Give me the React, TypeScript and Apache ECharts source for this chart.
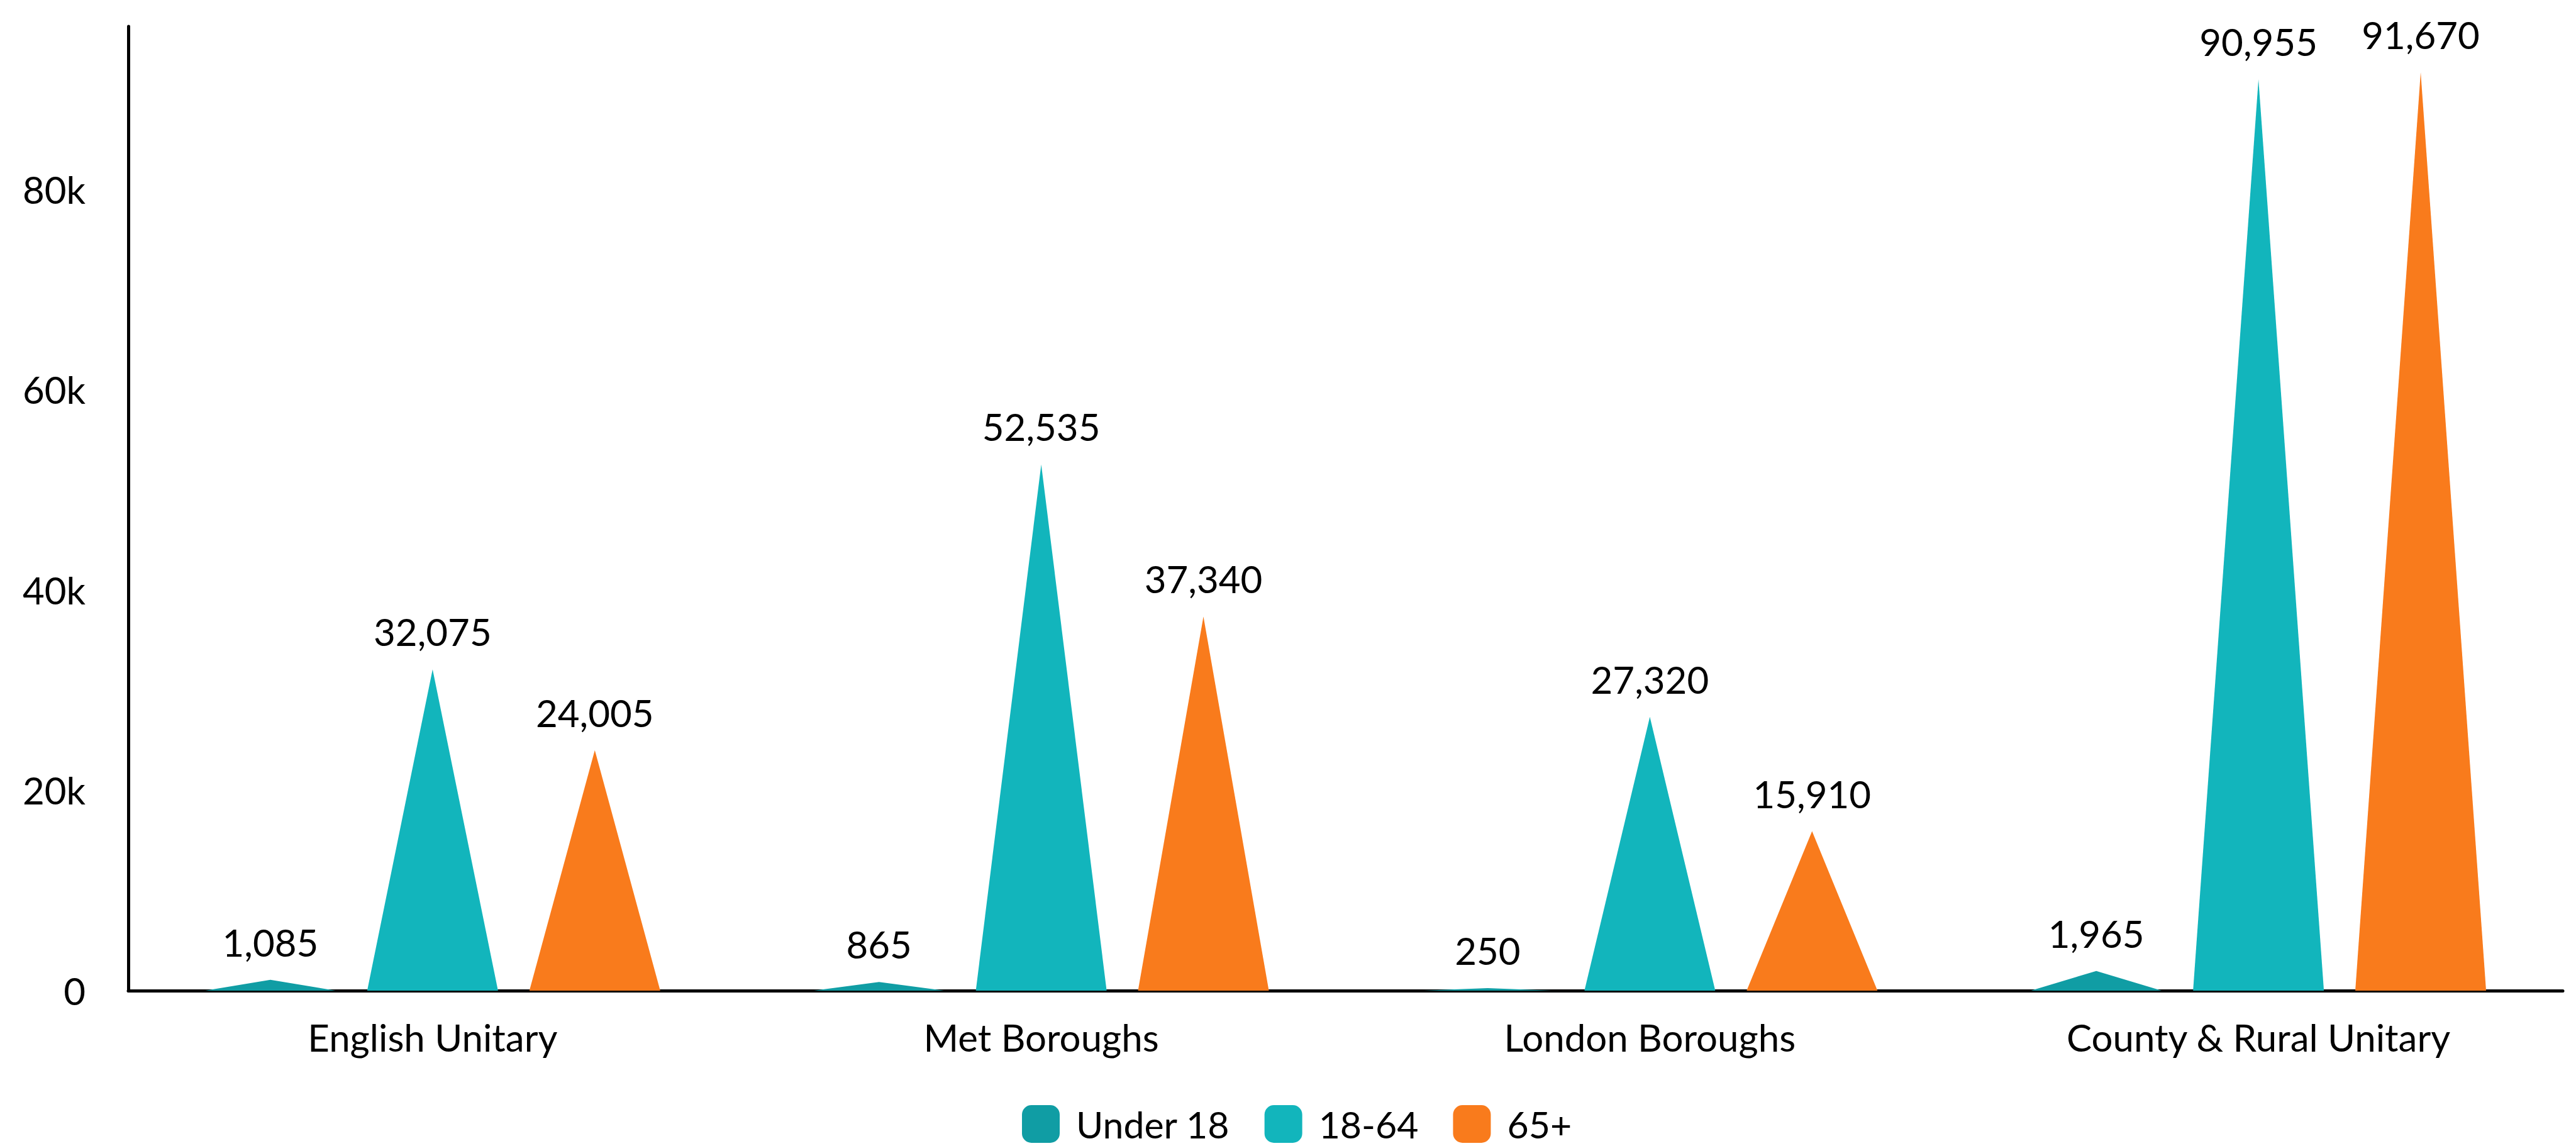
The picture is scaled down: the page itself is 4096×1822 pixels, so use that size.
import React, { useEffect, useRef } from "react";
import * as echarts from "echarts";

// Council groupings and the number of people in each age band
const categories = ["English Unitary", "Met Boroughs", "London Boroughs", "County & Rural Unitary"];
const under18 = [1085, 865, 250, 1965];
const age18to64 = [32075, 52535, 27320, 90955];
const age65plus = [24005, 37340, 15910, 91670];
const seriesNames = ["Under 18", "18-64", "65+"];
const seriesColors = ["#109DA4", "#12B5BC", "#F97B1C"];
const yTicks = [0, 20000, 40000, 60000, 80000];

const FONT = "Lato, 'Noto Sans', sans-serif";
const FS = 60;

export default function App() {
  const ref = useRef<HTMLDivElement>(null);

  useEffect(() => {
    if (!ref.current) return;
    const chart = echarts.init(ref.current, undefined, { renderer: "svg" });
    const fmt = (v: number) => v.toLocaleString("en-GB");
    const mk = (name: string, data: number[], color: string) => ({
      name,
      type: "pictorialBar",
      symbol: "triangle",
      symbolSize: ["100%", "100%"],
      barWidth: 208,
      barGap: "24%",
      itemStyle: { color },
      label: {
        show: true,
        position: "top",
        distance: 30,
        color: "#000",
        fontFamily: FONT,
        fontSize: FS,
        formatter: (p: any) => fmt(p.value),
      },
      data,
    });
    chart.setOption({
      animation: false,
      backgroundColor: "#fff",
      textStyle: { fontFamily: FONT },
      grid: { left: 204, right: 21, top: 42, bottom: 247, containLabel: false },
      legend: {
        data: seriesNames.map((n, i) => ({ name: n, itemStyle: { color: seriesColors[i] } })),
        left: 1625,
        top: 1757,
        padding: 0,
        icon: "roundRect",
        itemWidth: 60,
        itemHeight: 60,
        itemGap: 55,
        textStyle: {
          fontSize: 59,
          lineHeight: 50,
          color: "#000",
          fontFamily: FONT,
          padding: [0, 0, 0, 21],
        },
      },
      xAxis: {
        type: "category",
        data: categories,
        axisLine: { show: true, lineStyle: { color: "#000", width: 5 } },
        axisTick: { show: false },
        axisLabel: { color: "#000", fontSize: FS, fontFamily: FONT, margin: 44 },
      },
      yAxis: {
        type: "value",
        min: 0,
        max: 96250,
        interval: 20000,
        axisLine: { show: true, lineStyle: { color: "#000", width: 5 } },
        axisTick: { show: false },
        splitLine: { show: false },
        axisLabel: {
          color: "#000",
          fontSize: FS,
          fontFamily: FONT,
          margin: 68,
          showMaxLabel: false,
          formatter: (v: number) => (yTicks.includes(v) ? (v === 0 ? "0" : v / 1000 + "k") : ""),
        },
      },
      series: [
        mk(seriesNames[0], under18, seriesColors[0]),
        mk(seriesNames[1], age18to64, seriesColors[1]),
        mk(seriesNames[2], age65plus, seriesColors[2]),
      ],
    });
    return () => chart.dispose();
  }, []);

  return (
    <div
      ref={ref}
      style={{ position: "absolute", left: 0, top: 0, width: 4096, height: 1822 }}
    />
  );
}
